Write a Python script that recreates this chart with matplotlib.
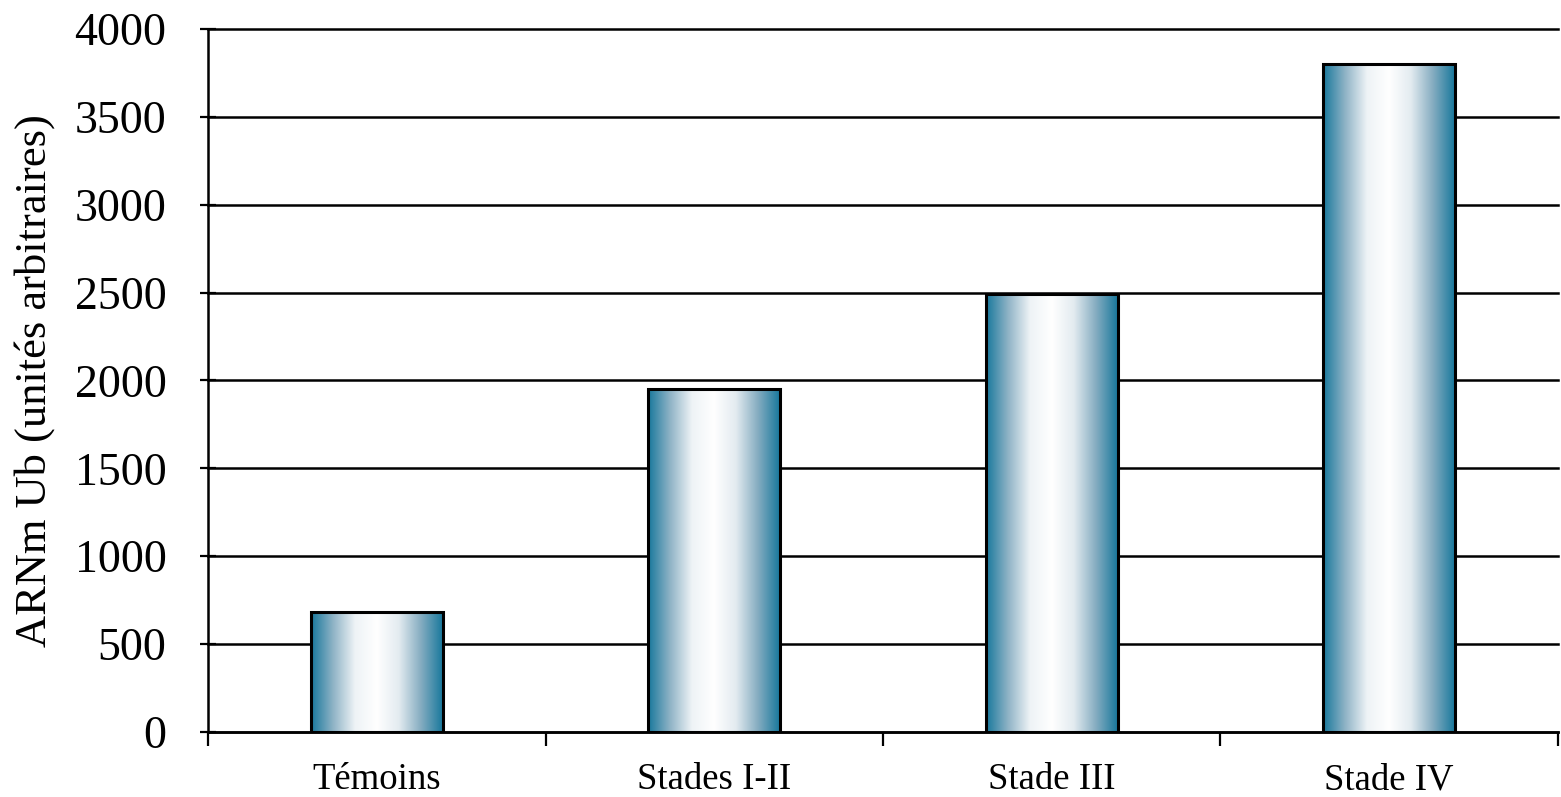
import matplotlib.pyplot as plt
import numpy as np
from matplotlib.colors import LinearSegmentedColormap

categories = ["Témoins", "Stades I-II", "Stade III", "Stade IV"]
values = [680, 1950, 2490, 3800]
yticks = [0, 500, 1000, 1500, 2000, 2500, 3000, 3500, 4000]

plt.rcParams['font.family'] = ['Liberation Serif', 'DejaVu Serif']

fig = plt.figure(figsize=(15.61, 7.97), dpi=100)
ax = fig.add_axes([0.1333, 0.0816, 0.8647, 0.882])

# teal -> white -> teal shading across each bar
cmap = LinearSegmentedColormap.from_list(
    "shade", ["#18789c", "#8fb3c6", "#eef3f6", "#ffffff", "#e3ebf0", "#86adc1", "#18789c"])
grad = np.linspace(0, 1, 256).reshape(1, -1)

width = 0.39
x = np.arange(len(categories))
for xi, v in zip(x, values):
    ax.imshow(grad, extent=[xi - width / 2, xi + width / 2, 0, v],
              aspect='auto', cmap=cmap, zorder=3, interpolation='bicubic')
bars = ax.bar(x, values, width=width, facecolor='none', edgecolor='black',
              linewidth=2.2, zorder=4)

ax.set_xlim(-0.5, len(categories) - 0.5)
ax.set_ylim(0, 4000)
ax.set_yticks(yticks)
ax.set_yticklabels([str(t) for t in yticks], fontsize=33)
ax.yaxis.grid(True, color='black', linewidth=1.8, zorder=1)
ax.set_axisbelow(True)
for line in ax.get_ygridlines():
    line.set_clip_on(False)

# category labels centred, tick marks on the boundaries
ax.set_xticks(x)
ax.set_xticklabels(categories, fontsize=26.5)
ax.tick_params(axis='x', which='major', length=0, pad=22)
ax.set_xticks(np.arange(-0.5, len(categories)), minor=True)
ax.tick_params(axis='x', which='minor', length=10, width=1.6, direction='out')
ax.tick_params(axis='y', length=12, width=1.6, direction='inout', pad=24)

ax.set_ylabel("ARNm Ub (unités arbitraires)", fontsize=32, labelpad=14)

for side in ['top', 'right']:
    ax.spines[side].set_visible(False)
for side in ['left', 'bottom']:
    ax.spines[side].set_linewidth(1.8)

fig.savefig("out.png", dpi=100)
